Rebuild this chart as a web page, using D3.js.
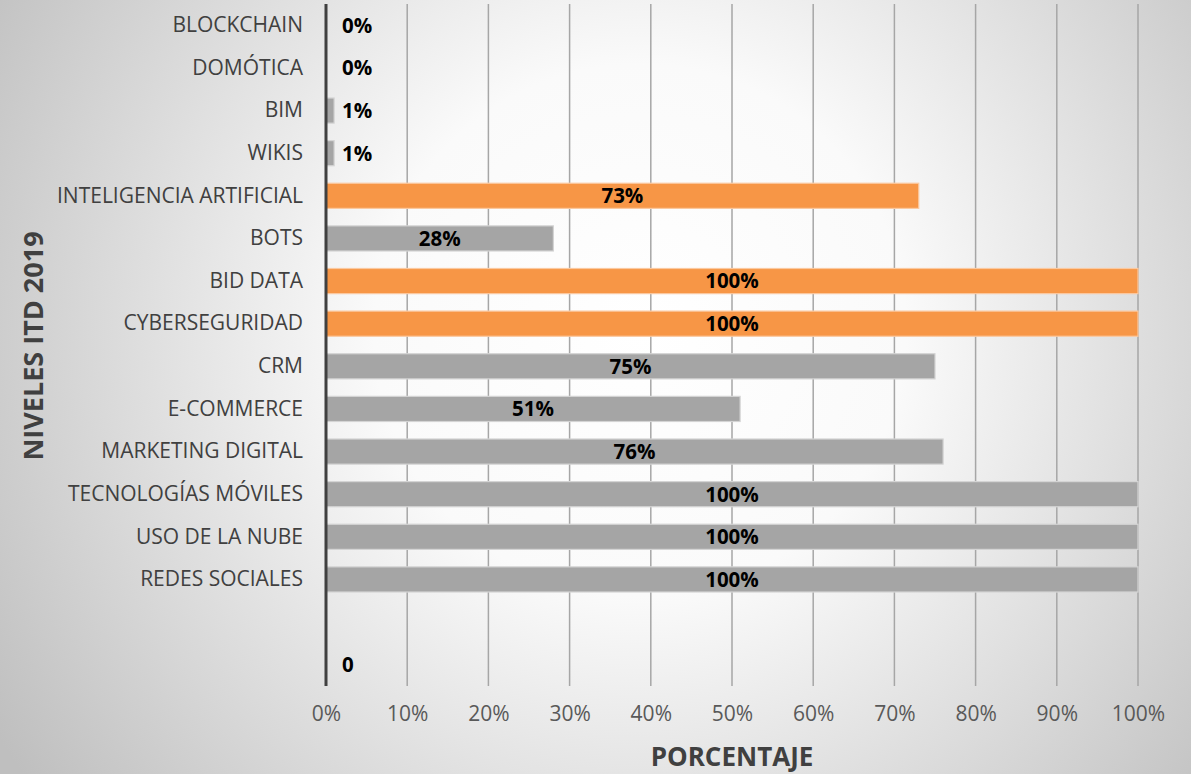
<!DOCTYPE html>
<html><head><meta charset="utf-8">
<script src="https://cdn.jsdelivr.net/npm/d3@7"></script>
<style>html,body{margin:0;padding:0;overflow:hidden;}</style>
</head><body>
<script>
const categories = ["BLOCKCHAIN","DOMÓTICA","BIM","WIKIS","INTELIGENCIA ARTIFICIAL","BOTS","BID DATA","CYBERSEGURIDAD","CRM","E-COMMERCE","MARKETING DIGITAL","TECNOLOGÍAS MÓVILES","USO DE LA NUBE","REDES SOCIALES","",""];
const values = [0,0,0.01,0.01,0.73,0.28,1,1,0.75,0.51,0.76,1,1,1,null,0];
const valueLabels = ["0%","0%","1%","1%","73%","28%","100%","100%","75%","51%","76%","100%","100%","100%","","0"];
const highlighted = [false,false,false,false,true,false,true,true,false,false,false,false,false,false,false,false];
const xTicks = [0,0.1,0.2,0.3,0.4,0.5,0.6,0.7,0.8,0.9,1];
const xTitle = "PORCENTAJE";
const yTitle = "NIVELES ITD 2019";

(function(){
const W = 1191, H = 774;
const svg = d3.select("body").append("svg").attr("width", W).attr("height", H);
const defs = svg.append("defs");
const grad = defs.append("radialGradient").attr("id","bg").attr("gradientUnits","userSpaceOnUse")
  .attr("cx",640).attr("cy",330).attr("r",760);
grad.append("stop").attr("offset","0%").attr("stop-color","#ffffff");
grad.append("stop").attr("offset","35%").attr("stop-color","#fafafa");
grad.append("stop").attr("offset","100%").attr("stop-color","#bfbfbf");
svg.append("rect").attr("width",W).attr("height",H).attr("fill","url(#bg)");

const pL = 326, pR = 1138, pT = 4, pB = 686;
const x = d3.scaleLinear().domain([0,1]).range([pL,pR]);
const y = d3.scaleBand().domain(d3.range(categories.length)).range([pT,pB]).paddingInner(0.41).paddingOuter(0.205);

const font = "'Open Sans', sans-serif";

svg.append("g").selectAll("line").data(xTicks.slice(1)).join("line")
  .attr("x1",d=>x(d)).attr("x2",d=>x(d)).attr("y1",pT).attr("y2",pB)
  .attr("stroke","#a6a6a6").attr("stroke-width",1.5);

svg.append("g").selectAll("rect").data(values.map((v,i)=>({v,i})).filter(d=>d.v)).join("rect")
  .attr("x",x(0)).attr("y",d=>y(d.i)).attr("width",d=>x(d.v)-x(0)).attr("height",y.bandwidth())
  .attr("fill",d=>highlighted[d.i]?"#f79646":"#a5a5a5")
  .attr("stroke",d=>highlighted[d.i]?"#fbc9a0":"#d4d4d4").attr("stroke-width",1.2);

svg.append("g").selectAll("text").data(values.map((v,i)=>({v,i}))).join("text")
  .attr("x",d=>{ const w = x(d.v||0)-x(0); return w>60 ? x(0)+w/2 : x(0)+16; })
  .attr("text-anchor",d=>{ const w = x(d.v||0)-x(0); return w>60 ? "middle" : "start"; })
  .attr("y",d=>y(d.i)+y.bandwidth()/2)
  .attr("dy","0.36em")
  .attr("font-family",font).attr("font-weight","bold").attr("font-size",20.5).attr("fill","#000")
  .text(d=>valueLabels[d.i]);

const yAxis = d3.axisLeft(y).tickSize(0).tickPadding(23).tickFormat(i=>categories[i]);
const yg = svg.append("g").attr("transform",`translate(${pL},0)`).call(yAxis);
yg.select(".domain").remove();
yg.selectAll("text").attr("font-family",font).attr("font-size",21).attr("fill","#404040");
svg.append("line").attr("x1",pL).attr("x2",pL).attr("y1",pT).attr("y2",pB)
  .attr("stroke","#404040").attr("stroke-width",3);

const xAxis = d3.axisBottom(x).tickValues(xTicks).tickSize(0).tickPadding(20).tickFormat(d3.format(".0%"));
const xg = svg.append("g").attr("transform",`translate(0,${pB})`).call(xAxis);
xg.select(".domain").remove();
xg.selectAll("text").attr("font-family",font).attr("font-size",21).attr("fill","#595959");

svg.append("text").attr("x",732).attr("y",766).attr("text-anchor","middle")
  .attr("font-family",font).attr("font-weight","bold").attr("font-size",26).attr("fill","#404040").text(xTitle);
svg.append("text").attr("transform","translate(43,346) rotate(-90)").attr("text-anchor","middle")
  .attr("font-family",font).attr("font-weight","bold").attr("font-size",27).attr("fill","#404040").text(yTitle);
})();
</script>
</body></html>
